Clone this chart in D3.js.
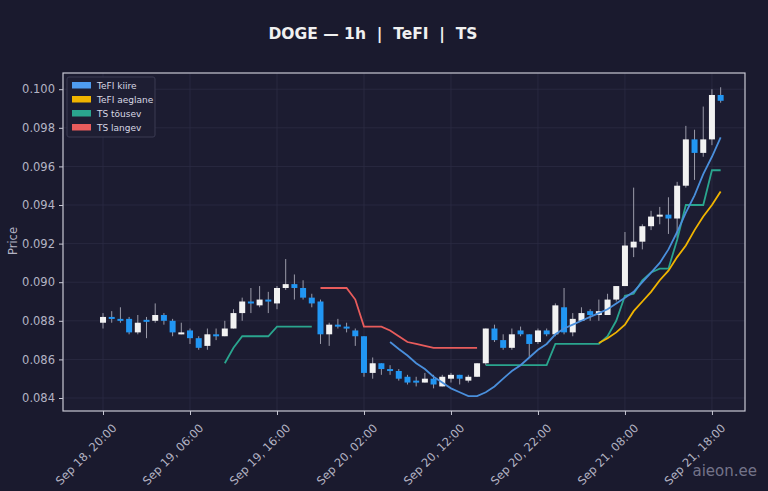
<!DOCTYPE html>
<html><head><meta charset="utf-8">
<script src="https://cdn.jsdelivr.net/npm/d3@7"></script>
<style>body{margin:0;background:#1a1a2e;}svg{display:block;font-family:"DejaVu Sans",sans-serif;}</style>
</head><body><svg id="c" width="768" height="491"></svg>
<script>
const startTime = "2025-09-18T20:00:00";
const opens  = [.0879,.0882,.0881,.0881,.0874,.08805,.0880,.0883,.0880,.0874,.0875,.0871,.0867,.0873,.0872,.0876,.0884,.0890,.0888,.0891,.0889,.0897,.0899,.0897,.0892,.0890,.0873,.0878,.0877,.0875,.0872,.0853,.0858,.0855,.0854,.0851,.0849,.0848,.0850,.0846,.0850,.0852,.0849,.0851,.0858,.0876,.0870,.0866,.0875,.0873,.0869,.0875,.0873,.0887,.0874,.0880,.0885,.0883,.0883,.0891,.0898,.0918,.0921,.0929,.0934,.0935,.0933,.0950,.0974,.0967,.0974,.0997];
const closes = [.0882,.0881,.0880,.0874,.0879,.0880,.0883,.0880,.0874,.0874,.0871,.0866,.0873,.0872,.0876,.0884,.0890,.0889,.0891,.0890,.0897,.0899,.0897,.0892,.0889,.0873,.0878,.0877,.0876,.0872,.0853,.0858,.0855,.0854,.0850,.0848,.0848,.0850,.0847,.0851,.0852,.0850,.0851,.0858,.0876,.0870,.0866,.0873,.0873,.0868,.0875,.0873,.0888,.0874,.0881,.0884,.0883,.0885,.0891,.0898,.0919,.0921,.0929,.0934,.0935,.0933,.0950,.0974,.0967,.0974,.0997,.0994];
const highs  = [.0884,.0885,.0887,.0882,.0883,.0882,.0889,.0884,.0881,.0879,.0876,.0872,.0876,.0876,.0880,.0886,.0892,.0897,.0898,.0895,.0898,.0912,.0904,.0901,.0894,.0891,.0879,.0881,.0879,.0876,.0872,.0861,.0858,.0857,.0855,.0852,.0851,.0853,.0852,.0852,.0853,.0852,.0852,.0858,.0876,.0878,.0873,.0876,.0877,.0873,.0876,.0876,.0889,.0897,.0884,.0887,.0886,.0891,.0894,.0898,.0926,.0949,.0930,.0937,.0939,.0944,.0952,.0981,.0979,.0991,.1000,.1001];
const lows   = [.0876,.0879,.0879,.0873,.0873,.0871,.0879,.0878,.0872,.0873,.0868,.0865,.0865,.0870,.0872,.0876,.0880,.0884,.0887,.0884,.0886,.0896,.0891,.0891,.0887,.0868,.0867,.0876,.0874,.0867,.0851,.0850,.0852,.0852,.0849,.0847,.0846,.0848,.0845,.0846,.0848,.0847,.0848,.0851,.0857,.0869,.0865,.0865,.0872,.0861,.0868,.0872,.0872,.0873,.0872,.0880,.0880,.0880,.0883,.0890,.0898,.0913,.0917,.0927,.0930,.0925,.0923,.0949,.0953,.0965,.0971,.0993];
const tefiFastStart = 33;
const tefiFast = [.0869,.08654,.0862,.0858,.0855,.0851,.0848,.0845,.0843,.0841,.0841,.0843,.0846,.0850,.0854,.0857,.0861,.0865,.0868,.0873,.0876,.0878,.0880,.0882,.0884,.0886,.0889,.0892,.0895,.0900,.0905,.0910,.0917,.0926,.0936,.0945,.0956,.0965,.0975];
const tefiSlowStart = 57;
const tefiSlow = [.08685,.0871,.0874,.0878,.0885,.0890,.0895,.0901,.0906,.0913,.0919,.0927,.0934,.0940,.0947];
const tsUp1Start = 14;
const tsUp1 = [.0858,.0866,.0872,.0872,.0872,.0872,.0877,.0877,.0877,.0877,.0877];
const tsUp2Start = 44;
const tsUp2 = [.0857,.0857,.0857,.0857,.0857,.0857,.0857,.0857,.0868,.0868,.0868,.0868,.0868,.0868,.0872,.0880,.0893,.0894,.0901,.0905,.0907,.0907,.0922,.0940,.0940,.0940,.0958,.0958];
const tsDownStart = 25;
const tsDown = [.0897,.0897,.0897,.0897,.0891,.0877,.0877,.0877,.0875,.0872,.0869,.0868,.0867,.0866,.0866,.0866,.0866,.0866,.0866];
const yTicks = [.084,.086,.088,.090,.092,.094,.096,.098,.100];
const xTickHours = [0,10,20,30,40,50,60,70];
const legendLabels = ["TeFI kiire","TeFI aeglane","TS tõusev","TS langev"];
const legendColors = ["#4f9cf0","#f0b400","#2aa58e","#e85c5c"];

const H = 3600e3, t0 = new Date(startTime).getTime();
const svg = d3.select("#c");
const L=63,R=745,T=73,B=411;
const x = d3.scaleTime().domain([new Date(t0-4.6*H), new Date(t0+73.8*H)]).range([L,R]);
const y = d3.scaleLinear().domain([.084 - 13/19300, .084 + 325/19300]).range([B,T]);
const tx = i => x(new Date(t0+i*H));
svg.append("rect").attr("x",L).attr("y",T).attr("width",R-L).attr("height",B-T).attr("fill","#1c1c31");
// grid
svg.append("g").selectAll("line").data(yTicks).join("line").attr("x1",L).attr("x2",R).attr("y1",d=>y(d)).attr("y2",d=>y(d)).attr("stroke","#2c2c44").attr("stroke-width",0.8);
svg.append("g").selectAll("line").data(xTickHours).join("line").attr("y1",T).attr("y2",B).attr("x1",d=>tx(d)).attr("x2",d=>tx(d)).attr("stroke","#2c2c44").attr("stroke-width",0.8);
// lines
const line = start => d3.line().x((d,i)=>tx(start+i)).y(d=>y(d));
const drawLine=(data,start,color)=>svg.append("path").datum(data).attr("d",line(start)).attr("fill","none").attr("stroke",color).attr("stroke-width",1.8);
// candles
const cg = svg.append("g");
opens.forEach((o,i)=>{
  const c=closes[i], up=c>=o, col=up?"#f2f2f2":"#2196f3";
  const cx=tx(i);
  cg.append("line").attr("x1",cx).attr("x2",cx).attr("y1",y(highs[i])).attr("y2",y(lows[i])).attr("stroke","#9a9aa8").attr("stroke-width",1);
  const y1=y(Math.max(o,c)), y2=y(Math.min(o,c));
  cg.append("rect").attr("x",cx-3).attr("width",6).attr("y",y1).attr("height",Math.max(2,y2-y1)).attr("fill",col);
});
drawLine(tsUp1,tsUp1Start,legendColors[2]);
drawLine(tsUp2,tsUp2Start,legendColors[2]);
drawLine(tsDown,tsDownStart,legendColors[3]);
drawLine(tefiSlow,tefiSlowStart,legendColors[1]);
drawLine(tefiFast,tefiFastStart,"#4a8fdc");
svg.append("rect").attr("x",L).attr("y",T).attr("width",R-L).attr("height",B-T).attr("fill","none").attr("stroke","#c8c8d4").attr("stroke-width",1.2);
// axes
const ya = svg.append("g").attr("transform",`translate(${L},0)`).call(d3.axisLeft(y).tickValues(yTicks).tickFormat(d3.format(".3f")).tickSize(4).tickPadding(4));
const xa = svg.append("g").attr("transform",`translate(0,${B})`).call(d3.axisBottom(x).tickValues(xTickHours.map(h=>new Date(t0+h*H))).tickFormat(d3.timeFormat("%b %d, %H:%M")).tickSize(4));
[ya,xa].forEach(a=>{a.select(".domain").remove();a.selectAll("line").attr("stroke","#c8c8d4");a.selectAll("text").attr("fill","#b4b4c4").attr("font-size",11.5).attr("font-family","DejaVu Sans");});
xa.selectAll("text").attr("text-anchor","end").attr("transform","translate(6,10) rotate(-45)").attr("dy","0.35em").attr("dx","0");
svg.append("text").attr("transform","translate(17,241) rotate(-90)").attr("text-anchor","middle").attr("fill","#b4b4c4").attr("font-size",11.5).text("Price");
svg.append("text").attr("x",373).attr("y",39).attr("text-anchor","middle").attr("fill","#f0f0f0").attr("font-size",15.5).attr("font-weight","bold").text("DOGE — 1h  |  TeFI  |  TS").style("white-space","pre");
// legend
const lg=svg.append("g").attr("transform","translate(67,77)");
lg.append("rect").attr("width",88).attr("height",60).attr("rx",2).attr("fill","#1e1e33").attr("stroke","#3a3a52");
legendLabels.forEach((t,i)=>{
  lg.append("rect").attr("x",5).attr("y",5+i*14).attr("width",19).attr("height",6.5).attr("fill",legendColors[i]);
  lg.append("text").attr("x",30).attr("y",11.5+i*14).attr("fill","#d8d8e4").attr("font-size",9).text(t);
});
svg.append("text").attr("x",757).attr("y",476).attr("text-anchor","end").attr("fill","#8a8aa0").attr("font-size",15).attr("opacity",0.8).text("aieon.ee");
</script></body></html>
